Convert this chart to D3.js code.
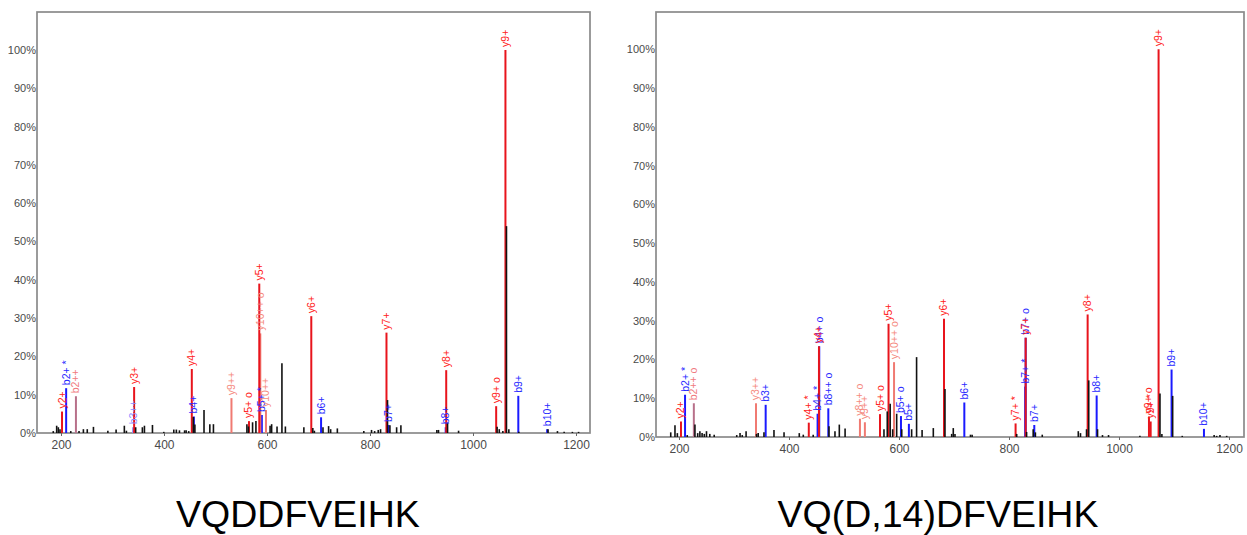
<!DOCTYPE html>
<html>
<head>
<meta charset="utf-8">
<script src="https://cdn.jsdelivr.net/npm/d3@7"></script>
<style>
html,body{margin:0;padding:0;background:#fff;}
svg{display:block;}
</style>
</head>
<body>
<svg id="chart" width="1247" height="535"></svg>
<script>
// ---------- data ----------
const xTicks = [200, 400, 600, 800, 1000, 1200];
const yTicks = [0, 10, 20, 30, 40, 50, 60, 70, 80, 90, 100];
const titles = ["VQDDFVEIHK", "VQ(D,14)DFVEIHK"];

// left spectrum: unannotated peaks
const leftNoiseMz  = [185,191.6,194.8,198,219,235,243.5,251,263,291,307,323,327,345,358,362,377.6,399.6,419,424,430,440,443,448,457,460,477.7,489,496,561,564,572,578.5,606,609,619.5,629,635.7,671.6,689,692,708.7,719.6,723.6,736.6,788,803,809,816,820.5,834,838.7,851.7,860,929.8,933,950.6,972,1046.8,1051,1058,1065,1069.6,1089,1145.7,1164,1177,1193,1205];
const leftNoiseInt = [0.5,1.9,1.5,1,0.5,0.5,1,1,1.6,0.6,0.9,1.9,0.6,1.5,1.5,1.9,2.1,0.3,0.9,0.9,0.7,0.7,0.7,0.5,4.2,2.2,6,2.3,2.3,2.3,1.7,2.8,3.1,1.9,2.3,1.7,18.2,1.7,1.5,1.3,0.6,1.5,1.8,1,1.2,0.5,0.8,0.5,0.8,1,8.6,2,1.5,2,0.8,0.8,2.7,0.6,1.6,1,0.5,54,1,0.3,1,0.5,0.3,0.3,0.3];
// left spectrum: annotated ions
const leftIonMz    = [202,210,229,340,342,454,458,531,565,585,587,590,598,686,705,832,836,947,948,1045,1063,1088,1144];
const leftIonInt   = [5.6,11.7,9.6,1.5,12,16.7,4.3,9.1,3.1,39,26,4.7,6,30.5,4.1,26.2,2.1,1.5,16.4,7,100,9.7,1];
const leftIonType  = ["y","b","m","bb","y","y","b","yy","y","y","yy","b","yy","y","b","y","b","b","y","y","y","b","b"];
const leftIonLabel = ["y2+","b2+ *","b2++","b3++","y3+","y4+","b4+","y9++","y5+ o","y5+","y10++ o","b5+ *","y10++","y6+","b6+","y7+","b7+","b8+","y8+","y9+ o","y9+","b9+","b10+"];

// right spectrum: unannotated peaks
const rightNoiseMz  = [185,192.7,197,215,229,234,238,242,246,250,256,264,305,311,315,322,341,344,354.5,372.7,391,418.7,426,444,472.7,483.6,491.5,502,572.7,578.7,584,588.5,595.8,605,623,632,642,662.4,683.6,695.8,698.7,701.8,730,733,814,832,844,848,860.5,926,930,941,945,961,970,981,1038,1074.5,1078,1097.6,1115,1173,1177.6,1183.6,1195.8];
const rightNoiseInt = [1.2,3,1,0.5,3.2,1,1.5,1,0.8,1.5,0.8,0.6,0.5,1,0.5,1.5,0.8,1,1.2,1.8,1.2,1,0.6,0.6,2.8,1.5,3.2,2.2,2,6.6,8.6,2,6,2,2,20.6,1.8,2.3,12.4,0.8,2.3,0.8,0.6,0.6,0.8,1.3,2,1.2,0.6,1.5,1,2,14.6,2,0.5,0.5,0.3,11.2,0.8,10.6,0.3,0.5,0.3,0.5,0.3];
// right spectrum: annotated ions
const rightIonMz    = [203.6,211,227,340,357.6,436,452,455,454.5,471.5,529,538,565.5,581,591,603.6,618,681.8,718.8,812,829.5,830.3,830.3,846,943,959.4,1054.5,1057.6,1072,1095.6,1154.5];
const rightIonInt   = [4,10.9,8.7,8.7,8.3,3.7,6,23.4,23.4,7.4,4.7,3.8,5.9,29.2,19.3,5.4,3.4,30.5,8.9,3.5,13,25.6,25.6,3.1,31.6,10.7,5.3,4,100,17.4,2.1];
const rightIonType  = ["y","b","m","yy","b","y","b","b","y","b","yy","yy","y","y","yy","b","b","y","b","y","b","b","y","b","y","b","y","y","y","b","b"];
const rightIonLabel = ["y2+","b2+ *","b2++ o","y3++","b3+","y4+ *","b4+ *","b4+ o","y4+","b8++ o","y8++ o","y9++","y5+ o","y5+","y10++ o","b5+ o","b5+","y6+","b6+","y7+ *","b7+ *","b7+ o","y7+","b7+","y8+","b8+","y9+ o","y9+ *","y9+","b9+","b10+"];

// ---------- styling ----------
const lineColor  = {y:"#e8141c", b:"#1a1aff", yy:"#f07a72", bb:"#8a8aff", m:"#b8708a"};
const labelColor = {y:"#ff2020", b:"#2a2aff", yy:"#f58a80", bb:"#8c8cff", m:"#f07a80"};
const drawOrder  = {bb:0, b:1, m:2, yy:3, y:4};

const svg = d3.select("#chart");

const panels = [
  {title: titles[0], noiseMz: leftNoiseMz, noiseInt: leftNoiseInt,
   ionMz: leftIonMz, ionInt: leftIonInt, ionType: leftIonType, ionLabel: leftIonLabel,
   box: {l: 37, r: 590, t: 12, b: 433}, xd: [153.4, 1227.2], ymax: 109.9, titleX: 298},
  {title: titles[1], noiseMz: rightNoiseMz, noiseInt: rightNoiseInt,
   ionMz: rightIonMz, ionInt: rightIonInt, ionType: rightIonType, ionLabel: rightIonLabel,
   box: {l: 656, r: 1244, t: 12, b: 437}, xd: [158.2, 1227.3], ymax: 109.6, titleX: 938}
];

panels.forEach(p => {
  const x = d3.scaleLinear().domain(p.xd).range([p.box.l, p.box.r]);
  const y = d3.scaleLinear().domain([0, p.ymax]).range([p.box.b, p.box.t]);
  const g = svg.append("g");

  // frame
  g.append("rect")
    .attr("x", p.box.l).attr("y", p.box.t)
    .attr("width", p.box.r - p.box.l).attr("height", p.box.b - p.box.t)
    .attr("fill", "none").attr("stroke", "#8a8a8a").attr("stroke-width", 1.7);

  // x axis
  const xAxis = d3.axisBottom(x).tickValues(xTicks).tickSize(3).tickPadding(4).tickFormat(d3.format("d"));
  const xg = g.append("g").attr("transform", `translate(0,${p.box.b})`).call(xAxis);
  xg.select(".domain").remove();
  xg.selectAll(".tick line").attr("stroke", "#666");
  xg.selectAll("text").attr("fill", "#4a4a4a").style("font-family", "'Liberation Sans', Arial, sans-serif").style("font-size", "12px");

  // y axis
  const yAxis = d3.axisLeft(y).tickValues(yTicks).tickSize(0).tickPadding(1).tickFormat(d => d + "%");
  const yg = g.append("g").attr("transform", `translate(${p.box.l},0)`).call(yAxis);
  yg.select(".domain").remove();
  yg.selectAll("text").attr("fill", "#4a4a4a").style("font-family", "'Liberation Sans', Arial, sans-serif").style("font-size", "11px");

  // annotated ion peaks
  const ions = p.ionMz.map((m, i) => ({mz: m, v: p.ionInt[i], t: p.ionType[i], lab: p.ionLabel[i]}))
    .sort((a, b) => drawOrder[a.t] - drawOrder[b.t]);

  g.append("g").selectAll("line").data(ions).join("line")
    .attr("x1", d => x(d.mz)).attr("x2", d => x(d.mz))
    .attr("y1", y(0)).attr("y2", d => y(d.v))
    .attr("stroke", d => lineColor[d.t]).attr("stroke-width", 2);

  // noise peaks
  const noise = p.noiseMz.map((m, i) => ({mz: m, v: p.noiseInt[i]}));
  g.append("g").selectAll("line").data(noise).join("line")
    .attr("x1", d => x(d.mz)).attr("x2", d => x(d.mz))
    .attr("y1", y(0)).attr("y2", d => y(d.v))
    .attr("stroke", "#111").attr("stroke-width", 1.6);

  // labels (rotated)
  g.append("g").selectAll("text").data(ions).join("text")
    .attr("transform", d => `translate(${x(d.mz) + 3.5},${y(d.v) - 3}) rotate(-90)`)
    .attr("text-anchor", "start")
    .attr("fill", d => labelColor[d.t])
    .style("font-family", "'Liberation Sans', Arial, sans-serif")
    .style("font-size", "10.5px")
    .text(d => d.lab);

  // title
  svg.append("text")
    .attr("x", p.titleX).attr("y", 527)
    .attr("text-anchor", "middle")
    .attr("fill", "#000")
    .style("font-family", "'Liberation Sans', Arial, sans-serif")
    .style("font-size", "37.5px")
    .text(p.title);
});
</script>
</body>
</html>
